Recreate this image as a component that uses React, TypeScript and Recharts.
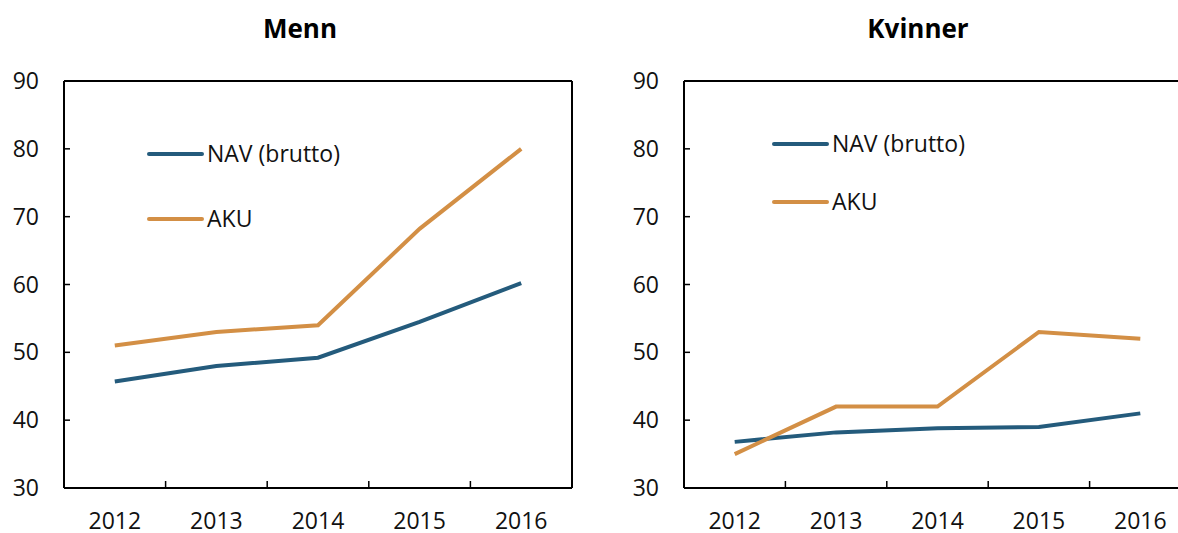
import React from 'react';
import { LineChart, Line, XAxis, YAxis } from 'recharts';

const years = [2012, 2013, 2014, 2015, 2016];
const mennNav = [45.7, 48.0, 49.2, 54.5, 60.2];
const mennAku = [51, 53, 54, 68.2, 80];
const kvinnerNav = [36.8, 38.2, 38.8, 39.0, 41.0];
const kvinnerAku = [35, 42, 42, 53, 52];
const yTicks = [30, 40, 50, 60, 70, 80, 90];
const seriesNames = ['NAV (brutto)', 'AKU'];
const seriesColors = ['#245B7C', '#D38F45'];
const panelTitles = ['Menn', 'Kvinner'];

const FONT = '"Open Sans", sans-serif';
const X_MARGIN = 25;
const Y_MARGIN = 25;
const domainX: [number, number] = [years[0] - 0.5, years[years.length - 1] + 0.5];
const xTicks = [...years, ...years.slice(0, -1).map((y) => y + 0.5)].sort((a, b) => a - b);

const build = (nav: number[], aku: number[]) =>
  years.map((year, i) => ({ year, nav: nav[i], aku: aku[i] }));

const XTick = (props: any) => {
  const { x, y, payload } = props;
  const v = payload.value;
  if (Number.isInteger(v)) {
    return (
      <text x={x} y={y} dy="0.71em" textAnchor="middle" fontFamily={FONT} fontSize={23} fill="#111">
        {v}
      </text>
    );
  }
  return <line x1={x} x2={x} y1={y - X_MARGIN} y2={y - X_MARGIN - 7} stroke="#000" strokeWidth={1.5} />;
};

const YTick = (props: any) => {
  const { x, y, payload } = props;
  const ax = x + Y_MARGIN;
  return (
    <g>
      <line x1={ax} x2={ax + 6} y1={y} y2={y} stroke="#000" strokeWidth={1.5} />
      <text x={x} y={y} dy="0.355em" textAnchor="end" fontFamily={FONT} fontSize={23} fill="#111">
        {payload.value}
      </text>
    </g>
  );
};

const Panel = ({ data, marginLeft, marginRight }: any) => (
  <LineChart
    width={600}
    height={533}
    data={data}
    margin={{ top: 80, right: marginRight, bottom: 5, left: marginLeft }}
  >
    <XAxis
      dataKey="year"
      type="number"
      domain={domainX}
      ticks={xTicks}
      interval={0}
      tickSize={0}
      tickMargin={X_MARGIN}
      tickLine={false}
      tick={<XTick />}
      height={40}
      axisLine={{ stroke: '#000', strokeWidth: 2 }}
    />
    <XAxis
      xAxisId="top"
      orientation="top"
      dataKey="year"
      type="number"
      domain={domainX}
      tick={false}
      tickLine={false}
      height={1}
      axisLine={{ stroke: '#000', strokeWidth: 2 }}
    />
    <YAxis
      type="number"
      domain={[30, 90]}
      ticks={yTicks}
      interval={0}
      tickSize={0}
      tickMargin={Y_MARGIN}
      tickLine={false}
      tick={<YTick />}
      width={60}
      axisLine={{ stroke: '#000', strokeWidth: 2 }}
    />
    <YAxis
      yAxisId="right"
      orientation="right"
      type="number"
      domain={[30, 90]}
      tick={false}
      tickLine={false}
      width={1}
      axisLine={{ stroke: '#000', strokeWidth: 2 }}
    />
    <Line dataKey="nav" name={seriesNames[0]} stroke={seriesColors[0]} strokeWidth={4} dot={false} isAnimationActive={false} />
    <Line dataKey="aku" name={seriesNames[1]} stroke={seriesColors[1]} strokeWidth={4} dot={false} isAnimationActive={false} />
  </LineChart>
);

const Legend = ({ x, ys }: { x: number; ys: number[] }) => (
  <g>
    {seriesNames.map((name, i) => (
      <g key={name}>
        <line x1={x} x2={x + 53} y1={ys[i]} y2={ys[i]} stroke={seriesColors[i]} strokeWidth={4} strokeLinecap="round" />
        <text x={x + 58} y={ys[i] + 8} fontFamily={FONT} fontSize={23} fill="#111">
          {name}
        </text>
      </g>
    ))}
  </g>
);

export default function App() {
  return (
    <div style={{ position: 'absolute', left: 0, top: 0, width: 1178, height: 533, overflow: 'hidden', background: '#fff' }}>
      <div style={{ position: 'absolute', left: 0, top: 0 }}>
        <Panel data={build(mennNav, mennAku)} marginLeft={4} marginRight={27} />
      </div>
      <div style={{ position: 'absolute', left: 600, top: 0 }}>
        <Panel data={build(kvinnerNav, kvinnerAku)} marginLeft={24} marginRight={8} />
      </div>
      <svg width={1178} height={533} style={{ position: 'absolute', left: 0, top: 0, pointerEvents: 'none' }}>
        <text x={300} y={38} textAnchor="middle" fontFamily={FONT} fontWeight="bold" fontSize={26} fill="#000">
          {panelTitles[0]}
        </text>
        <text x={918} y={38} textAnchor="middle" fontFamily={FONT} fontWeight="bold" fontSize={26} fill="#000">
          {panelTitles[1]}
        </text>
        <Legend x={149} ys={[154, 219]} />
        <Legend x={774} ys={[144, 202]} />
      </svg>
    </div>
  );
}
